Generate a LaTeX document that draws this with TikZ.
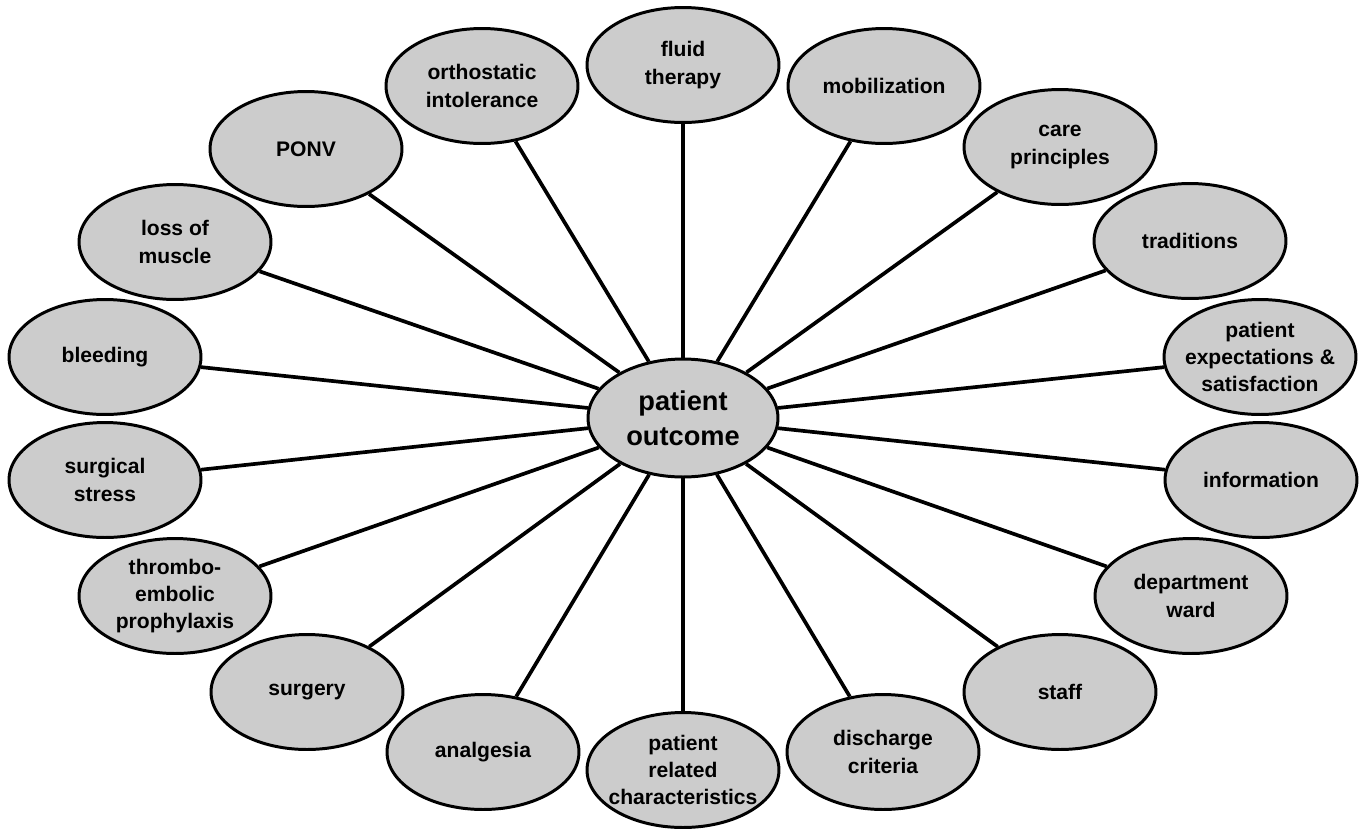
\documentclass[tikz,border=0pt]{standalone}
\usepackage{fontspec}
\setmainfont{Liberation Sans}
\usetikzlibrary{shapes.geometric}
\tikzset{font={\fontsize{12pt}{15.5pt}\selectfont\bfseries}}
\tikzset{
  bubble/.style={ellipse, draw=black, line width=1.7pt, fill=black!20,
    minimum width=3.84cm, minimum height=2.3cm,
    inner xsep=-12pt, inner ysep=-10pt, align=center},
  hub/.style={bubble, minimum width=3.8cm, minimum height=2.36cm,
    font={\fontsize{15.5pt}{20pt}\selectfont\bfseries}},
  spoke/.style={line width=2.1pt}
}

\begin{document}
\begin{tikzpicture}[x=0.02cm, y=-0.02cm]
      \useasboundingbox (0,0) rectangle (1359,829);
      %centre
      \node[hub] (outcome) at (683,418) {patient\\outcome};
      %top half
      \node[bubble] (fluid) at (683,65) {fluid\\therapy};
      \node[bubble] (orthostatic) at (482,86) {orthostatic\\intolerance};
      \node[bubble] (mobilization) at (884,86) {mobilization};
      \node[bubble] (ponv) at (306,149) {PONV};
      \node[bubble] (care) at (1060,147) {care\\principles};
      \node[bubble] (loss) at (175,242) {loss of\\muscle};
      \node[bubble] (traditions) at (1190,241) {traditions};
      \node[bubble] (bleeding) at (105,357) {bleeding};
      \node[bubble] (expectations) at (1260,357) {patient\\expectations \&\\satisfaction};
      %bottom half
      \node[bubble] (stress) at (105,480) {surgical\\stress};
      \node[bubble] (information) at (1261,480) {information};
      \node[bubble] (thrombo) at (175,596) {thrombo-\\embolic\\prophylaxis};
      \node[bubble] (department) at (1191,596) {department\\ward};
      \node[bubble] (surgery) at (307,692) {surgery};
      \node[bubble] (staff) at (1060,692) {staff};
      \node[bubble] (analgesia) at (483,752) {analgesia};
      \node[bubble] (discharge) at (883,752) {discharge\\criteria};
      \node[bubble] (related) at (683,770) {patient\\related\\characteristics};
      %spokes
      \foreach \n in {fluid, orthostatic, mobilization, ponv, care, loss, traditions,
          bleeding, expectations, stress, information, thrombo, department,
          surgery, staff, analgesia, discharge, related}
	\draw[spoke] (outcome) -- (\n);
    \end{tikzpicture}
\end{document}
